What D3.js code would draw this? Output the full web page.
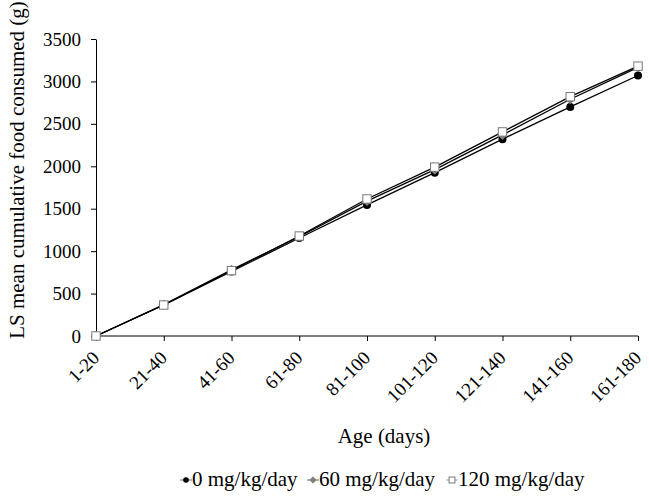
<!DOCTYPE html>
<html><head><meta charset="utf-8">
<script src="https://cdn.jsdelivr.net/npm/d3@7"></script>
<style>body{margin:0;background:#fff}svg{display:block}text{font-family:"Liberation Serif","Times New Roman",serif}</style>
</head><body><svg id="c" width="649" height="497"></svg>
<script>
const categories = ["1-20","21-40","41-60","61-80","81-100","101-120","121-140","141-160","161-180"];
const s0 = [0, 365, 760, 1155, 1545, 1925, 2320, 2700, 3070];
const s60 = [0, 370, 780, 1170, 1590, 1960, 2370, 2790, 3165];
const s120 = [0, 365, 770, 1178, 1615, 1990, 2405, 2820, 3180];
const yTicks = [0,500,1000,1500,2000,2500,3000,3500];
const seriesNames = ["0 mg/kg/day","60 mg/kg/day","120 mg/kg/day"];

const svg = d3.select("#c");
const x = d3.scalePoint().domain(categories).range([96, 638]);
const y = d3.scaleLinear().domain([0,3500]).range([336, 39]);

// axes
const ya = svg.append("g").attr("transform","translate(96,0)")
  .call(d3.axisLeft(y).tickValues(yTicks).tickFormat(d3.format("d")).tickSize(5).tickPadding(10).tickSizeOuter(0));
ya.selectAll("text").style("font-size","19px").attr("fill","#000");
ya.selectAll("line,path").attr("stroke","#000");
const xa = svg.append("g").attr("transform","translate(0,336)")
  .call(d3.axisBottom(x).tickSize(5).tickSizeOuter(0));
xa.select(".domain").attr("d","M96,0H638");
xa.selectAll("line,path").attr("stroke","#000");
xa.selectAll("text").style("font-size","19px").attr("fill","#000")
  .attr("text-anchor","end").attr("dy",null).attr("y",0)
  .attr("transform","translate(4,23) rotate(-45)");

// titles
svg.append("text").attr("x",384).attr("y",443).attr("text-anchor","middle")
  .style("font-size","21px").text("Age (days)");
svg.append("text").attr("transform","translate(24,170) rotate(-90)").attr("text-anchor","middle")
  .style("font-size","21px").text("LS mean cumulative food consumed (g)");

const line = d3.line().x((d,i)=>x(categories[i])).y(d=>y(d));
[s0,s60,s120].forEach(s=>{
  svg.append("path").attr("d",line(s)).attr("fill","none").attr("stroke","#000").attr("stroke-width",1.3);
});
function circle(g,cx,cy,k){g.append("circle").attr("cx",cx).attr("cy",cy).attr("r",4*k).attr("fill","#000");}
function diamond(g,cx,cy,k){const r=4.5*k;g.append("path").attr("d",`M${cx},${cy-r}L${cx+r},${cy}L${cx},${cy+r}L${cx-r},${cy}Z`).attr("fill","#808080").attr("stroke","#808080");}
function square(g,cx,cy,k){const r=4.2*k;g.append("rect").attr("x",cx-r).attr("y",cy-r).attr("width",2*r).attr("height",2*r).attr("fill","#fff").attr("stroke","#777").attr("stroke-width",1);}
const mk = [circle, diamond, square];
[s0,s60,s120].forEach((s,k)=>{
  const g = svg.append("g");
  s.forEach((v,i)=>mk[k](g, x(categories[i]), y(v), 1));
});

// legend
const lc = [186, 313, 452];
seriesNames.forEach((n,k)=>{
  const g = svg.append("g");
  const cx = lc[k], cy = 480;
  g.append("line").attr("x1",cx-6).attr("x2",cx+6).attr("y1",cy).attr("y2",cy).attr("stroke", k==2?"#aaa":"#666").attr("stroke-width",1);
  mk[k](g,cx,cy,0.7);
  g.append("text").attr("x",cx+6).attr("y",486).style("font-size","21px").text(n);
});
</script></body></html>
